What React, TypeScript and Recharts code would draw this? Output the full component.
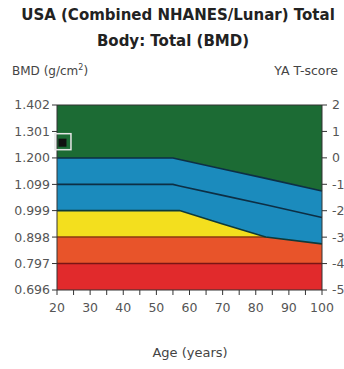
import {
  Area,
  ComposedChart,
  Line,
  ReferenceLine,
  Scatter,
  XAxis,
  YAxis,
} from "recharts";

// reference curves (BMD g/cm²)
const AGES = [20, 55, 57, 70, 83, 100];
const UPPER = [1.2, 1.2, 1.194, 1.158, 1.122, 1.074];
const MIDDLE = [1.099, 1.099, 1.093, 1.057, 1.021, 0.973];
const LOWER = [0.999, 0.999, 0.999, 0.948, 0.898, 0.872];
const YELLOW_TOP = [0.999, 0.999, 0.999, 0.948, 0.898, 0.898];

const BMD_MIN = 0.696;
const BMD_MAX = 1.402;
const RED_TOP = 0.797;
const ORANGE_TOP = 0.898;

const BMD_TICKS = [0.696, 0.797, 0.898, 0.999, 1.099, 1.2, 1.301, 1.402];
const T_TICKS = [2, 1, 0, -1, -2, -3, -4, -5];
const AGE_TICKS = [20, 25, 30, 35, 40, 45, 50, 55, 60, 65, 70, 75, 80, 85, 90, 95, 100];

const PATIENT = [{ age: 21.8, bmd: 1.262 }];

const rows = AGES.map((age, i) => ({
  age,
  upper: UPPER[i],
  middle: MIDDLE[i],
  lower: LOWER[i],
  red: [BMD_MIN, RED_TOP],
  orange: [RED_TOP, ORANGE_TOP],
  yellow: [ORANGE_TOP, YELLOW_TOP[i]],
  blue: [LOWER[i], UPPER[i]],
  green: [UPPER[i], BMD_MAX],
}));

const FONT = "'DejaVu Sans', sans-serif";
const tickStyle = { fontSize: 12.5, fill: "#555", fontFamily: FONT };

function AgeTick(props: any) {
  const { x, y, payload } = props;
  const v = payload.value;
  return (
    <g>
      <line x1={x} x2={x} y1={y - 8} y2={y - 3} stroke="#333" />
      {v % 10 === 0 && (
        <text x={x} y={y + 14} textAnchor="middle" {...tickStyle}>
          {v}
        </text>
      )}
    </g>
  );
}

function PatientMark(props: any) {
  const { cx, cy } = props;
  return (
    <g>
      <rect x={cx - 8} y={cy - 8} width={16} height={16} fill="none" stroke="#e6e6e6" strokeWidth={1.5} />
      <rect x={cx - 4.5} y={cy - 3} width={8} height={8} fill="#111" />
    </g>
  );
}

const label = (text: string, x: number, y: number, anchor: string, extra: any = {}) => (
  <div
    style={{
      position: "absolute",
      left: x,
      top: y,
      transform: `translate(${anchor === "middle" ? "-50%" : anchor === "end" ? "-100%" : "0"}, -50%)`,
      whiteSpace: "nowrap",
      fontFamily: FONT,
      fontSize: 12,
      color: "#444",
      ...extra,
    }}
  >
    {text}
  </div>
);

export default function App() {
  return (
    <div style={{ position: "absolute", left: 0, top: 0, width: 344, height: 369, background: "#fff", overflow: "hidden" }}>
      {label("USA (Combined NHANES/Lunar) Total", 178, 15, "middle", { fontSize: 15, fontWeight: 700, color: "#222" })}
      {label("Body: Total (BMD)", 173, 41, "middle", { fontSize: 15, fontWeight: 700, color: "#222" })}
      <div
        style={{
          position: "absolute",
          left: 12,
          top: 70,
          transform: "translateY(-50%)",
          fontFamily: FONT,
          fontSize: 12,
          color: "#444",
          whiteSpace: "nowrap",
        }}
      >
        BMD (g/cm<sup style={{ fontSize: 8 }}>2</sup>)
      </div>
      {label("YA T-score", 338, 70, "end", { fontSize: 12.5 })}
      {label("Age (years)", 190, 352, "middle", { fontSize: 13 })}
      <div style={{ position: "absolute", left: 0, top: 0 }}>
        <ComposedChart
          width={344}
          height={369}
          data={rows}
          margin={{ top: 105, right: 0, bottom: 49, left: 0 }}
        >
          <XAxis
            dataKey="age"
            type="number"
            domain={[20, 100]}
            ticks={AGE_TICKS}
            interval={0}
            height={30}
            tick={<AgeTick />}
            tickLine={false}
            axisLine={{ stroke: "#333" }}
          />
          <YAxis
            yAxisId="bmd"
            type="number"
            domain={[BMD_MIN, BMD_MAX]}
            ticks={BMD_TICKS}
            interval={0}
            width={57}
            tickSize={5}
            tickFormatter={(v: number) => v.toFixed(3)}
            tick={tickStyle}
            tickLine={{ stroke: "#333" }}
            axisLine={{ stroke: "#333" }}
            allowDataOverflow
          />
          <YAxis
            yAxisId="t"
            orientation="right"
            type="number"
            domain={[-5, 2]}
            ticks={T_TICKS}
            interval={0}
            width={22}
            tickSize={5}
            tick={{ ...tickStyle, dx: 3 }}
            tickLine={{ stroke: "#333" }}
            axisLine={{ stroke: "#333" }}
            allowDataOverflow
          />
          <Area yAxisId="bmd" dataKey="red" type="linear" fill="#e12a2c" fillOpacity={1} stroke="none" isAnimationActive={false} />
          <Area yAxisId="bmd" dataKey="orange" type="linear" fill="#e8542a" fillOpacity={1} stroke="none" isAnimationActive={false} />
          <Area yAxisId="bmd" dataKey="yellow" type="linear" fill="#f3df1e" fillOpacity={1} stroke="none" isAnimationActive={false} />
          <Area yAxisId="bmd" dataKey="blue" type="linear" fill="#1b8bbd" fillOpacity={1} stroke="none" isAnimationActive={false} />
          <Area yAxisId="bmd" dataKey="green" type="linear" fill="#1c6b34" fillOpacity={1} stroke="none" isAnimationActive={false} />
          <ReferenceLine yAxisId="bmd" y={RED_TOP} stroke="#7a1414" strokeWidth={1.5} />
          <ReferenceLine
            yAxisId="bmd"
            segment={[
              { x: 20, y: ORANGE_TOP },
              { x: 83, y: ORANGE_TOP },
            ]}
            stroke="#8a3a12"
            strokeWidth={1.5}
          />
          <ReferenceLine yAxisId="bmd" y={BMD_MAX} stroke="#333" strokeWidth={1} />
          <Line yAxisId="bmd" dataKey="lower" type="linear" stroke="#0d3a3a" strokeWidth={1.6} dot={false} isAnimationActive={false} />
          <Line yAxisId="bmd" dataKey="middle" type="linear" stroke="#0d2f45" strokeWidth={1.6} dot={false} isAnimationActive={false} />
          <Line yAxisId="bmd" dataKey="upper" type="linear" stroke="#0d2f45" strokeWidth={1.6} dot={false} isAnimationActive={false} />
          <Scatter yAxisId="bmd" data={PATIENT} dataKey="bmd" shape={<PatientMark />} isAnimationActive={false} />
        </ComposedChart>
      </div>
    </div>
  );
}
